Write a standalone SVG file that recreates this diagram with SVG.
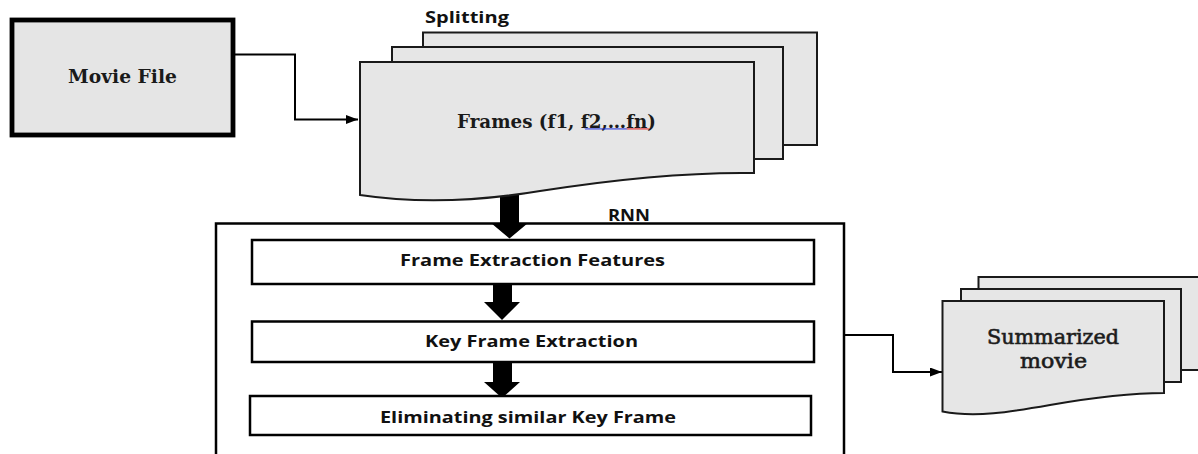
<svg xmlns="http://www.w3.org/2000/svg" width="1198" height="454" viewBox="0 0 1198 454">
  <defs>
    <marker id="head" markerUnits="userSpaceOnUse" markerWidth="13" markerHeight="10" refX="12" refY="4.5" orient="auto">
      <path d="M0,0 L12,4.5 L0,9 Z" fill="#000"/>
    </marker>
  </defs>
  <style>
    .sheet { fill: #e6e6e6; stroke: #1a1a1a; stroke-width: 2; stroke-linejoin: miter; }
    .step { fill: #fff; stroke: #000; stroke-width: 2.5; }
    .frame { fill: none; stroke: #000; stroke-width: 2.5; }
    .wire { fill: none; stroke: #000; stroke-width: 2; }
    .block { fill: #000; stroke: none; }
    .serif { font-family: "DejaVu Serif", "Liberation Serif", serif; fill: #1a1a1a; }
    .outlined { stroke: #222; stroke-width: 0.6; }
    .sans { font-family: "Open Sans", "Liberation Sans", sans-serif; font-weight: 700; font-size: 16.8px; fill: #111; }
    .squiggle { fill: none; stroke-width: 1; }
  </style>

  <rect width="1198" height="454" fill="#fff"/>

  <!-- source file -->
  <g id="movie-file">
    <rect x="12" y="20" width="221" height="115" fill="#e5e5e5" stroke="#000" stroke-width="4.8"/>
    <text class="serif" x="68" y="83" font-size="19" font-weight="700" textLength="109" lengthAdjust="spacingAndGlyphs">Movie File</text>
  </g>

  <!-- connectors: elbow lines and block arrows -->
  <g id="connectors">
    <path class="wire" d="M235,54.5 H295 V119.5 H358" marker-end="url(#head)"/>
    <path class="wire" d="M845,335 H893 V372 H942" marker-end="url(#head)"/>
    <polygon class="block" points="500,190 519,190 519,223 528,223 509.5,238.5 491,223 500,223"/>
    <polygon class="block" points="493,284 512,284 512,302 520,302 502,320 484,302 493,302"/>
    <polygon class="block" points="493,362 512,362 512,382 520,382 502,398 484,382 493,382"/>
  </g>

  <!-- split frames, stacked sheets -->
  <g id="frames">
    <text class="sans" x="425" y="22.7" textLength="84" lengthAdjust="spacingAndGlyphs">Splitting</text>
    <rect class="sheet" x="423" y="32.5" width="394" height="112.5"/>
    <rect class="sheet" x="392" y="47" width="391" height="112"/>
    <path class="sheet" d="M360,62 H754 V173 C690,172 610,180 540,191 C480,201 420,204 360,195 Z"/>
    <text class="serif" x="457" y="127.5" font-size="18.5" font-weight="700" textLength="199" lengthAdjust="spacingAndGlyphs">Frames (f1, f2,…fn)</text>
    <path class="squiggle" stroke="#2233dd" d="M585,128.3 l1,1.2 l1,-1.2 l1,1.2 l1,-1.2 l1,1.2 l1,-1.2 l1,1.2 l1,-1.2 l1,1.2 l1,-1.2 l1,1.2 l1,-1.2 l1,1.2 l1,-1.2 l1,1.2 l1,-1.2 l1,1.2 l1,-1.2 l1,1.2 l1,-1.2 l1,1.2 l1,-1.2 l1,1.2 l1,-1.2 l1,1.2 l1,-1.2 l1,1.2 l1,-1.2 l1,1.2 l1,-1.2 l1,1.2 l1,-1.2 l1,1.2 l1,-1.2 l1,1.2 l1,-1.2 l1,1.2 l1,-1.2 l1,1.2 l1,-1.2 l1,1.2 l1,-1.2"/>
    <path class="squiggle" stroke="#e02020" d="M627,128.3 l1,1.2 l1,-1.2 l1,1.2 l1,-1.2 l1,1.2 l1,-1.2 l1,1.2 l1,-1.2 l1,1.2 l1,-1.2 l1,1.2 l1,-1.2 l1,1.2 l1,-1.2 l1,1.2 l1,-1.2 l1,1.2 l1,-1.2 l1,1.2 l1,-1.2 l1,1.2 l1,-1.2"/>
  </g>

  <!-- RNN stage container -->
  <g id="rnn">
    <rect class="frame" x="216" y="223.5" width="628" height="260"/>
    <text class="sans" x="608" y="221" textLength="42" lengthAdjust="spacingAndGlyphs">RNN</text>
  </g>

  <g id="step-features">
    <rect class="step" x="252" y="240" width="562" height="44"/>
    <text class="sans" x="400" y="266" textLength="265" lengthAdjust="spacingAndGlyphs">Frame Extraction Features</text>
  </g>

  <g id="step-keyframe">
    <rect class="step" x="252" y="321.5" width="562" height="40.5"/>
    <text class="sans" x="425" y="347" textLength="213" lengthAdjust="spacingAndGlyphs">Key Frame Extraction</text>
  </g>

  <g id="step-eliminate">
    <rect class="step" x="250" y="396" width="561" height="39"/>
    <text class="sans" x="380" y="422.5" textLength="296" lengthAdjust="spacingAndGlyphs">Eliminating similar Key Frame</text>
  </g>

  <!-- output, stacked sheets -->
  <g id="summarized">
    <rect class="sheet" x="978.5" y="277" width="240" height="93"/>
    <rect class="sheet" x="961" y="289" width="220" height="93"/>
    <path class="sheet" d="M942.5,301 H1164 V393 C1130,393 1090,398 1050,405 C1010,412 975,418 942.5,411.5 Z"/>
    <text class="serif outlined" x="987" y="344" font-size="19.5" textLength="132" lengthAdjust="spacingAndGlyphs">Summarized</text>
    <text class="serif outlined" x="1020" y="368" font-size="19.5" textLength="67" lengthAdjust="spacingAndGlyphs">movie</text>
  </g>
</svg>
